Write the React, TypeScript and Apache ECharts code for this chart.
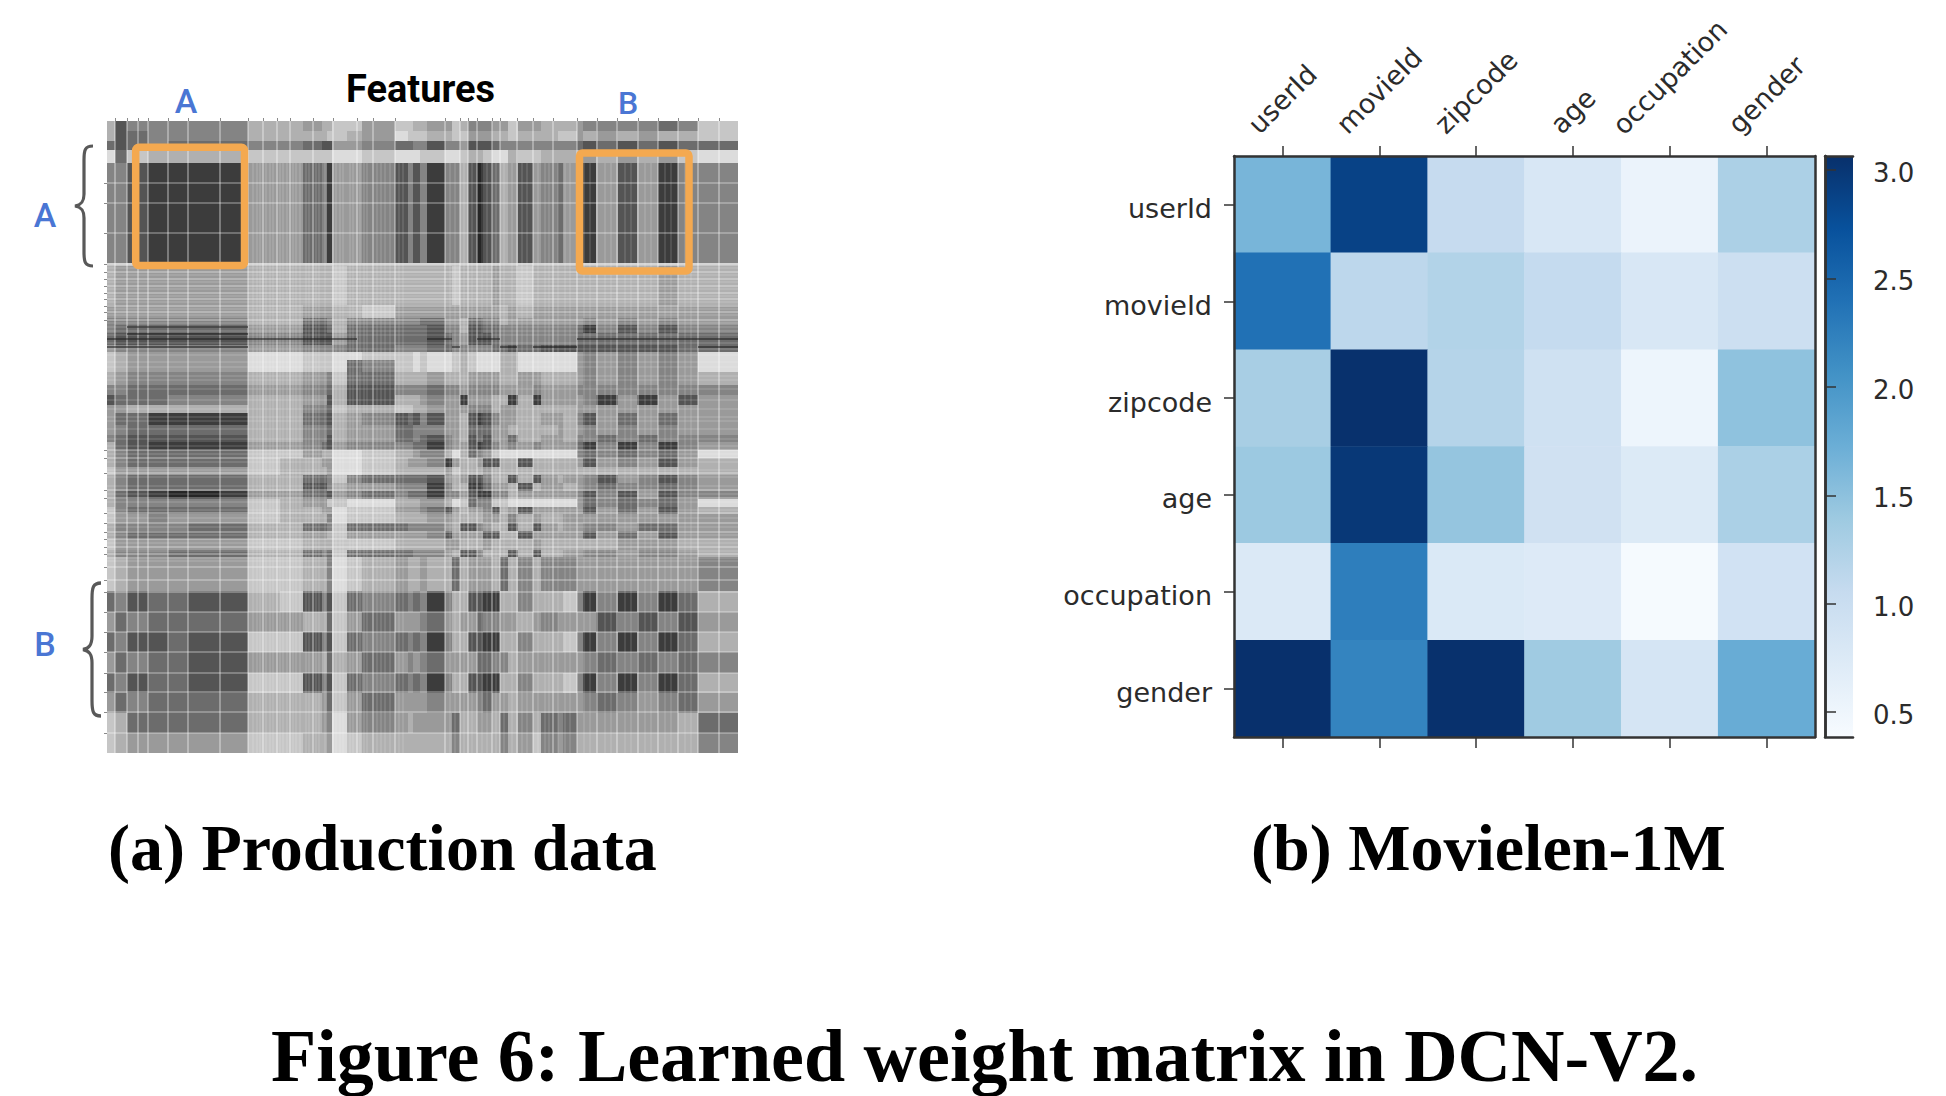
import React, { useEffect, useRef } from "react";
import * as echarts from "echarts";

// ---------- (b) Movielen-1M ----------
const features = ["userId", "movieId", "zipcode", "age", "occupation", "gender"];
const weightRows = [
  [1.64, 2.88, 1.05, 0.8, 0.55, 1.27],
  [2.4, 1.13, 1.22, 1.06, 0.8, 0.97],
  [1.31, 3.05, 1.2, 0.93, 0.52, 1.49],
  [1.4, 2.98, 1.45, 0.92, 0.75, 1.28],
  [0.76, 2.26, 0.77, 0.74, 0.41, 0.9],
  [3.06, 2.2, 3.05, 1.37, 0.84, 1.75],
];
const colorTicks = [0.5, 1.0, 1.5, 2.0, 2.5, 3.0];
const colorMin = 0.385;
const colorMax = 3.065;
const blues = ["#f7fbff", "#deebf7", "#c6dbef", "#9ecae1", "#6baed6", "#4292c6", "#2171b5", "#08519c", "#08306b"];
const labelLift = [8.5, 14.5, 13.5, 0, 24, 11.5];

// ---------- (a) Production data: shades 0 (light) .. 9 (dark) read block by block ----------
const panelColEdges = [0, 8, 20, 41, 61, 81, 113, 141, 173, 196, 215, 220, 225, 240, 255, 288, 301, 306, 313, 320, 338, 345, 353, 361, 370, 376, 385, 393, 401, 411, 426, 434, 451, 456, 470, 476, 489, 511, 530, 551, 571, 591, 631];
const panelRowEdges = [0, 10, 20, 29, 42, 142, 145, 184, 197, 204, 212, 224, 231, 239, 251, 264, 274, 284, 292, 304, 314, 321, 329, 337, 346, 354, 362, 370, 378, 386, 393, 402, 410, 418, 429, 436, 470, 491, 511, 531, 552, 572, 592, 612, 632];
const panelShades = [
  "3755555 33433224 22334423 55544244333 45555652",
  "3765555 33332234 12223322 44433233322 43434332",
  "6765666 55677445 66557554 77765555555 67676766",
  "1623333 22222112 11122112 33211322333 34343421",
  "5578888 44658445 75758553 79763474564 58474855",
  "2222222 22222222 22222222 22222222222 22222222",
  "3444444 33333233 33333323 33343323333 33333433",
  "4444444 33444332 44444444 44443434444 44444444",
  "5555555 33665355 55566443 66553444444 45454544",
  "5666666 44776366 66667553 77665555555 68575755",
  "6777777 55777466 66667654 77765555555 66666666",
  "4555555 44555566 55556655 55566766777 77777766",
  "2344444 11222112 22121123 21113311111 45454541",
  "2344444 11222165 22121123 21113311111 45454541",
  "3455555 33445266 33334333 44443344333 45454543",
  "5566666 44556377 55556554 55554445444 55555555",
  "7666555 33447377 33345448 44433838444 45848474",
  "4433333 33556233 22334444 55534433333 44444444",
  "4668888 33667345 76757443 78754433443 57464644",
  "4566666 33556344 66555443 66644333343 45454544",
  "5677777 33557344 66567543 76744633443 55656555",
  "3678888 44567455 55668544 78754545444 68585854",
  "3566666 22433112 33455313 65421111111 56565641",
  "3566666 23344112 34445843 34773373333 47454743",
  "2444444 23334112 33333423 33433333333 33333333",
  "3566666 33665256 66667434 77533737434 45745754",
  "3566666 33775344 55558533 88644373443 45655654",
  "3678998 44667456 56668554 78855344444 57574755",
  "3555555 23442211 33344312 65522111111 46565641",
  "2566666 23344122 44456743 44573474444 47464743",
  "2445444 23335122 33334433 33443534334 44444444",
  "3555566 33665266 65555437 75433737434 45546644",
  "3566666 33443244 44445744 44773374444 47464744",
  "2444444 22333222 33333443 33433334333 33344433",
  "3555666 33656266 66555437 75333737334 45545543",
  "2344444 22335123 43343363 44436353555 44444445",
  "6576677 32757265 65658533 77883353332 58585863",
  "4656666 44336246 44456434 46554434544 44757574",
  "6577677 22757265 65658533 77883353332 58585863",
  "4656677 44436346 45456444 46655344444 45656565",
  "6576677 22757265 65658533 77883353332 58585863",
  "4656666 33346246 44445444 45644344444 45654564",
  "2366666 33345145 43444463 34436353656 44444436",
  "2344444 22334123 33333353 33335342545 33333335",
];
const shadeGreys = ["#f4f4f4", "#dcdcdc", "#c6c6c6", "#b0b0b0", "#9a9a9a", "#848484", "#6c6c6c", "#545454", "#3c3c3c", "#262626"];
const paleCols = [8, 20, 31, 41, 61, 81, 113, 141, 156, 170, 183, 206, 226, 250, 266, 288, 338, 353, 361, 370, 385, 393, 410, 426, 446, 470, 490, 510, 531, 551, 571, 591, 612];
const paleRows = [62, 82, 112, 143, 151, 158, 165, 172, 178, 185, 191, 199, 329, 337, 352, 369, 377, 392, 402, 411, 418, 426, 433, 446, 459, 471, 491, 511, 531, 552, 571, 591, 612];
const fineCols = [146, 150, 153, 159, 163, 166, 173, 176, 180, 186, 189, 193, 199, 202, 209, 212, 218, 229, 233, 236, 243, 246, 253, 257, 260, 270, 274, 278, 283, 292, 296, 343, 348, 357, 365, 375, 380, 389, 397, 405, 415, 420, 431, 438, 442, 451, 458, 463, 477, 483, 498, 504, 518, 524, 538, 544, 558, 564, 578, 584];
const fineRows = [147, 154, 161, 168, 175, 181, 188, 194, 202, 206, 210, 214, 222, 228, 234, 241, 246, 255, 259, 268, 279, 288, 296, 300, 308, 318, 325, 333, 341, 349, 356, 365, 373, 381, 389, 397, 406, 414, 422, 430, 437, 440];
const darkStrokes = [
  [0, 141, 218], [141, 196, 218], [196, 250, 218], [320, 345, 218], [370, 393, 218], [470, 631, 218],
  [0, 141, 226], [345, 353, 226], [393, 410, 226], [426, 470, 226], [591, 631, 226],
  [20, 141, 206], [20, 141, 213],
];

// ---------- texts ----------
const caption = "Figure 6: Learned weight matrix in DCN-V2.";
const panelTitles = ["(a) Production data", "(b) Movielen-1M"];
const GROUP_A = "A";
const GROUP_B = "B";

echarts.graphic.registerShape(
  "brace",
  echarts.graphic.extendPath(
    "M18 0 C10 0 9 4 9 14 L9 48 C9 56 6 59 0 60 C6 61 9 64 9 72 L9 106 C9 116 10 120 18 120",
    {}
  )
);

const heatData: number[][] = [];
weightRows.forEach((row, r) => row.forEach((v, c) => heatData.push([c, r, v])));

const panelData: number[][] = [];
panelShades.forEach((line, r) => {
  line.replace(/\s/g, "").split("").forEach((ch, c) => {
    panelData.push([panelColEdges[c], panelColEdges[c + 1], panelRowEdges[r], panelRowEdges[r + 1], Number(ch)]);
  });
});
const paleData = [
  ...paleCols.map((x) => [x, x, 0, 632, 0]),
  ...paleRows.map((y) => [0, 631, y, y, 0]),
  ...fineCols.map((x) => [x, x, 42, 632, 1]),
  ...fineRows.map((y) => [0, 631, y, y, 1]),
  ...darkStrokes.map((d) => [d[0], d[1], d[2], d[2], 2]),
];

const INK = "#2b2b2b";
const FRAME = "#333333";
const frameAxis = { show: true, lineStyle: { color: FRAME, width: 2.5 } };

function App() {
  const ref = useRef<HTMLDivElement>(null);
  useEffect(() => {
    const chart = echarts.init(ref.current!, undefined, { renderer: "svg" });
    const serif = "Liberation Serif";
    const blue = "#4a76d4";
    const orange = "#f4a950";
    const option: any = {
      animation: false,
      backgroundColor: "#ffffff",
      title: [
        { text: "Features", left: 346, top: 70, padding: 0, textStyle: { fontFamily: "Roboto", fontWeight: "bold", fontSize: 38, color: "#000" } },
        { text: panelTitles[0], left: 108, top: 814, padding: 0, textStyle: { fontFamily: serif, fontWeight: "bold", fontSize: 66, color: "#000" } },
        { text: panelTitles[1], left: 1251, top: 814, padding: 0, textStyle: { fontFamily: serif, fontWeight: "bold", fontSize: 66, color: "#000" } },
        { text: caption, left: 271, top: 1023, padding: 0, textStyle: { fontFamily: serif, fontWeight: "bold", fontSize: 74, lineHeight: 66, color: "#000" } },
      ],
      grid: [
        { left: 107, top: 121, width: 631, height: 632, outerBoundsMode: "none" },
        { left: 1234, top: 156, width: 581, height: 581, outerBoundsMode: "none" },
        { left: 1825, top: 156, width: 28, height: 581, outerBoundsMode: "none" },
      ],
      xAxis: [
        {
          gridIndex: 0, type: "value", position: "top", min: 0, max: 631,
          splitLine: { show: false }, axisLine: { show: false }, axisLabel: { show: false },
          axisTick: { show: true, length: 3, inside: false, customValues: paleCols, lineStyle: { color: "#8a8a8a", width: 1 } },
        },
        {
          gridIndex: 1, type: "category", position: "top", data: features.map((f, i) => ({
            value: f,
            textStyle: {
              align: "center",
              verticalAlign: "bottom",
              lineHeight: 28,
              padding: [0, 0, labelLift[i] - 14, 2 * labelLift[i]],
            },
          })),
          z: 10, axisLine: frameAxis,
          axisTick: { show: true, length: 10, alignWithLabel: true, lineStyle: { color: FRAME, width: 1.5 } },
          axisLabel: { rotate: -45, margin: 45, interval: 0, fontFamily: "DejaVu Sans", fontSize: 27, color: INK },
          splitLine: { show: false },
        },
        {
          gridIndex: 1, type: "category", position: "bottom", data: features,
          z: 10, axisLine: frameAxis,
          axisTick: { show: true, length: 11, alignWithLabel: true, lineStyle: { color: FRAME, width: 1.5 } },
          axisLabel: { show: false }, splitLine: { show: false },
        },
        { gridIndex: 2, type: "value", position: "top", min: 0, max: 1, z: 10, axisLine: frameAxis, axisTick: { show: false }, axisLabel: { show: false }, splitLine: { show: false } },
        { gridIndex: 2, type: "value", position: "bottom", min: 0, max: 1, z: 10, axisLine: frameAxis, axisTick: { show: false }, axisLabel: { show: false }, splitLine: { show: false } },
      ],
      yAxis: [
        {
          gridIndex: 0, type: "value", inverse: true, min: 0, max: 632,
          splitLine: { show: false }, axisLine: { show: false }, axisLabel: { show: false },
          axisTick: { show: true, length: 3, customValues: paleRows, lineStyle: { color: "#8a8a8a", width: 1 } },
        },
        {
          gridIndex: 1, type: "category", inverse: true, position: "left", data: features,
          z: 10, axisLine: frameAxis,
          axisTick: { show: true, length: 10, alignWithLabel: true, lineStyle: { color: FRAME, width: 1.5 } },
          axisLabel: { margin: 22, interval: 0, verticalAlign: "top", lineHeight: 28, padding: [-10, 0, 0, 0], fontFamily: "DejaVu Sans", fontSize: 27, color: INK },
          splitLine: { show: false },
        },
        {
          gridIndex: 1, type: "category", inverse: true, position: "right", data: features,
          z: 10, axisLine: frameAxis, axisTick: { show: false }, axisLabel: { show: false }, splitLine: { show: false },
        },
        {
          gridIndex: 2, type: "value", position: "right", min: colorMin, max: colorMax,
          z: 10, axisLine: frameAxis,
          axisTick: { show: true, length: 11, customValues: colorTicks, lineStyle: { color: FRAME, width: 1.5 } },
          axisLabel: { customValues: colorTicks, margin: 20, verticalAlign: "top", lineHeight: 28, padding: [-11, 0, 0, 0], fontFamily: "DejaVu Sans", fontSize: 26, color: INK, formatter: (v: number) => v.toFixed(1) },
          splitLine: { show: false },
        },
        {
          gridIndex: 2, type: "value", position: "left", min: colorMin, max: colorMax,
          z: 10, axisLine: frameAxis, axisTick: { show: false }, axisLabel: { show: false }, splitLine: { show: false },
        },
      ],
      visualMap: [
        { type: "continuous", show: false, seriesIndex: 0, dimension: 4, min: 0, max: 9, inRange: { color: shadeGreys } },
        { type: "continuous", show: false, seriesIndex: 2, dimension: 2, min: colorMin, max: colorMax, inRange: { color: blues } },
      ],
      series: [
        {
          type: "custom", xAxisIndex: 0, yAxisIndex: 0, silent: true, clip: true,
          encode: { x: [0, 1], y: [2, 3] },
          data: panelData,
          renderItem: (_p: any, api: any) => {
            const a = api.coord([api.value(0), api.value(2)]);
            const b = api.coord([api.value(1), api.value(3)]);
            const x0 = Math.round(a[0]), y0 = Math.round(a[1]);
            return {
              type: "rect",
              shape: { x: x0, y: y0, width: Math.round(b[0]) - x0, height: Math.round(b[1]) - y0 },
              style: { fill: api.visual("color") },
            };
          },
        },
        {
          type: "custom", xAxisIndex: 0, yAxisIndex: 0, silent: true,
          encode: { x: [0, 1], y: [2, 3] },
          data: paleData,
          renderItem: (_p: any, api: any) => {
            const a = api.coord([api.value(0), api.value(2)]);
            const b = api.coord([api.value(1), api.value(3)]);
            const kind = api.value(4);
            return {
              type: "line",
              shape: { x1: a[0], y1: a[1], x2: b[0], y2: b[1] },
              style:
                kind === 2
                  ? { stroke: "#1c1c1c", lineWidth: 1.4, opacity: 0.7 }
                  : kind === 1
                  ? { stroke: "#ffffff", lineWidth: 1, opacity: 0.22 }
                  : { stroke: "#ffffff", lineWidth: 1.2, opacity: 0.55 },
            };
          },
        },
        {
          type: "heatmap", xAxisIndex: 1, yAxisIndex: 1, data: heatData, silent: true,
          label: { show: false }, emphasis: { disabled: true },
        },
        {
          type: "custom", xAxisIndex: 3, yAxisIndex: 3, silent: true,
          encode: { x: 0, y: [1, 2] },
          data: [[0, colorMin, colorMax]],
          renderItem: (_p: any, api: any) => {
            const a = api.coord([0, api.value(2)]);
            const b = api.coord([1, api.value(1)]);
            return {
              type: "rect",
              shape: { x: a[0], y: a[1], width: b[0] - a[0], height: b[1] - a[1] },
              style: {
                fill: new echarts.graphic.LinearGradient(0, 1, 0, 0,
                  blues.map((color, i) => ({ offset: i / (blues.length - 1), color }))),
              },
            };
          },
        },
      ],
      graphic: [
        { type: "rect", z: 50, shape: { x: 135.7, y: 147.3, width: 108.8, height: 118.2, r: 3 }, style: { fill: "none", stroke: orange, lineWidth: 7.5 } },
        { type: "rect", z: 50, shape: { x: 579.5, y: 153, width: 109.5, height: 118, r: 3 }, style: { fill: "none", stroke: orange, lineWidth: 7.5 } },
        { type: "brace", z: 50, x: 75, y: 146, scaleX: 1, scaleY: 1, style: { fill: "none", stroke: "#595959", lineWidth: 3.2 } },
        { type: "brace", z: 50, x: 83, y: 583, scaleX: 1, scaleY: 133 / 120, style: { fill: "none", stroke: "#595959", lineWidth: 3.2 } },
        { type: "text", z: 50, x: 186, y: 101, style: { text: GROUP_A, fill: blue, font: "500 34px Roboto", textAlign: "center", textVerticalAlign: "middle" } },
        { type: "text", z: 50, x: 628, y: 103, style: { text: GROUP_B, fill: blue, font: "500 32px Roboto", textAlign: "center", textVerticalAlign: "middle" } },
        { type: "text", z: 50, x: 45, y: 215, style: { text: GROUP_A, fill: blue, font: "500 34px Roboto", textAlign: "center", textVerticalAlign: "middle" } },
        { type: "text", z: 50, x: 45, y: 644, style: { text: GROUP_B, fill: blue, font: "500 34px Roboto", textAlign: "center", textVerticalAlign: "middle" } },
      ],
    };
    chart.setOption(option);
    return () => chart.dispose();
  }, []);
  return <div ref={ref} style={{ position: "absolute", left: 0, top: 0, width: 1946, height: 1096, overflow: "hidden" }} />;
}

export default App;
